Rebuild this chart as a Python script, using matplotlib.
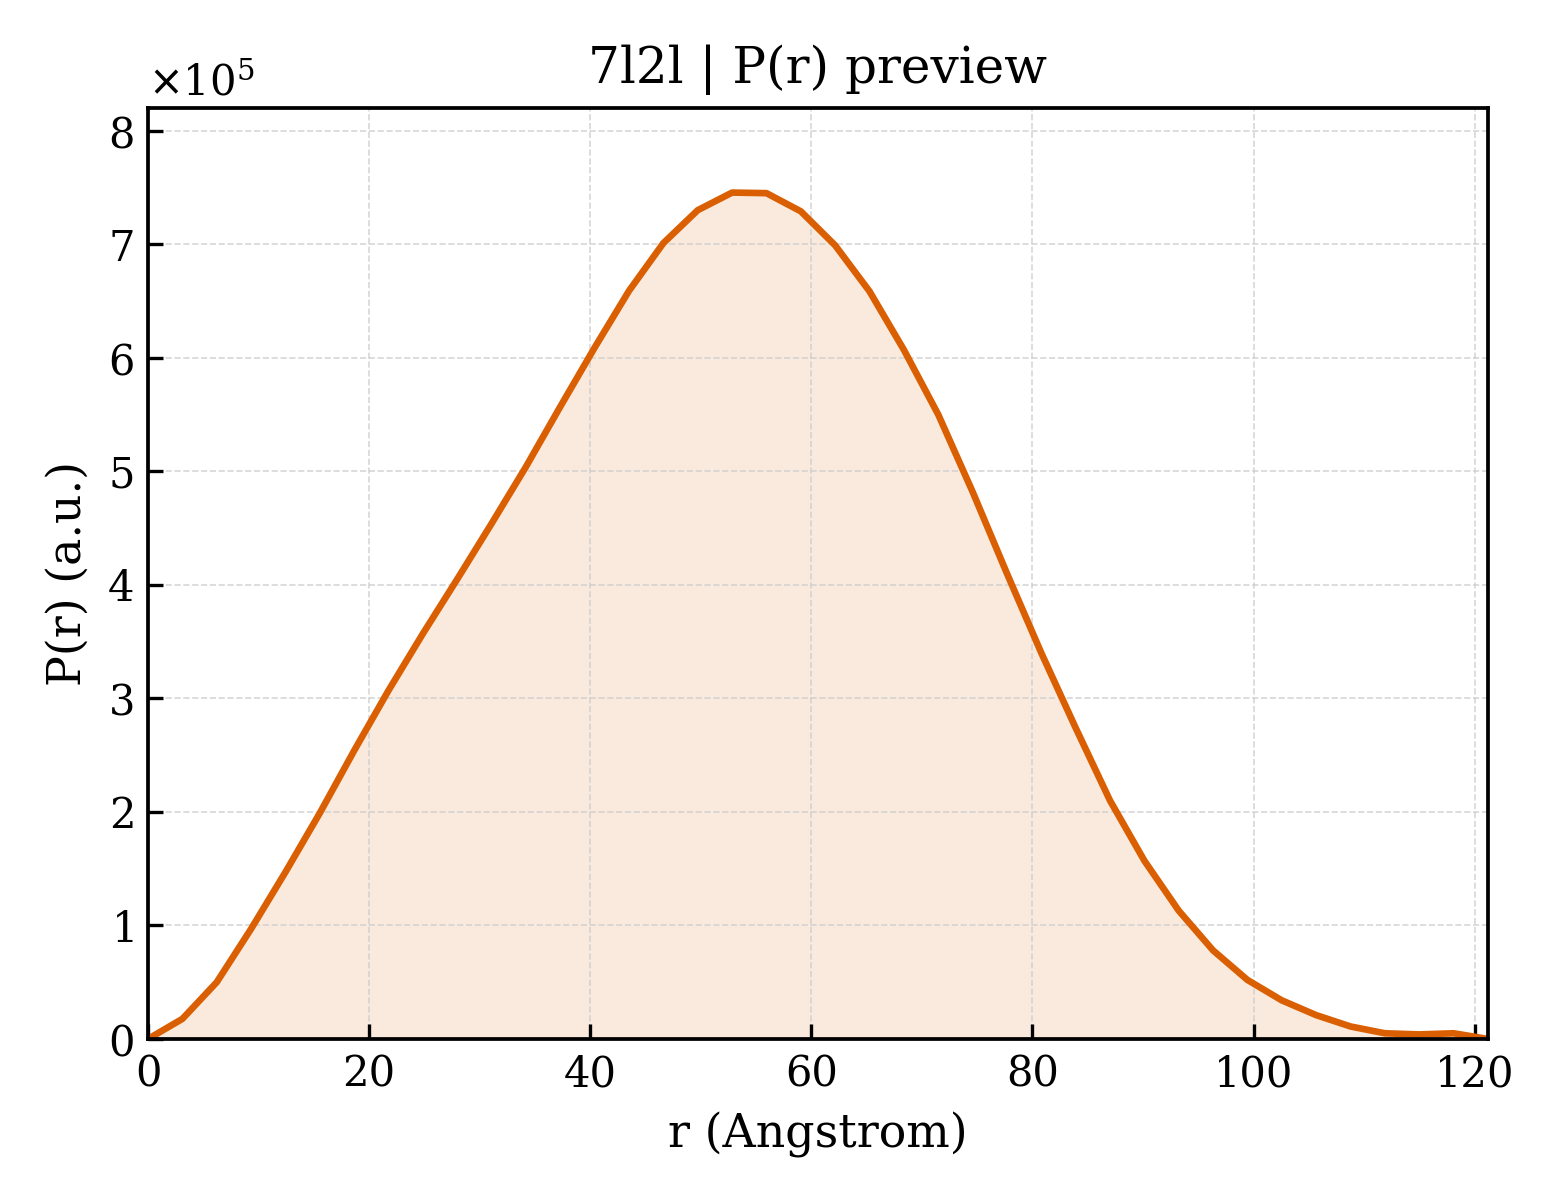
import numpy as np
import matplotlib
matplotlib.use("Agg")
import matplotlib.pyplot as plt

plt.rcParams['font.family'] = ['DejaVu Serif']

r_max = 121.2
n_points = 40
pr_values_e5 = [0.0, 0.177, 0.50, 0.97, 1.47, 1.99, 2.54, 3.07, 3.57, 4.05,
                4.54, 5.04, 5.57, 6.09, 6.59, 7.01, 7.30, 7.455, 7.45, 7.29,
                6.99, 6.585, 6.07, 5.50, 4.82, 4.10, 3.40, 2.74, 2.10, 1.57,
                1.13, 0.78, 0.52, 0.34, 0.21, 0.11, 0.05, 0.04, 0.05, 0.0]

r = np.linspace(0, r_max, n_points)
pr = np.array(pr_values_e5) * 1e5

fig = plt.figure(figsize=(5.2, 4.0), dpi=300)
ax = fig.add_axes([0.0949, 0.1342, 0.9538 - 0.0949, 0.91 - 0.1342])

color = '#D95F02'
ax.fill_between(r, pr, 0, color=color, alpha=0.13, linewidth=0)
ax.plot(r, pr, color=color, linewidth=1.6)

ax.set_xlim(0, r_max)
ax.set_ylim(0, 8.2e5)
ax.set_xticks([0, 20, 40, 60, 80, 100, 120])
ax.set_yticks(np.arange(0, 9) * 1e5)
ax.ticklabel_format(axis='y', style='sci', scilimits=(0, 0), useMathText=True)
ax.tick_params(direction='in', labelsize=10, width=0.8)
ax.grid(True, linestyle='--', linewidth=0.4, color='#cccccc', alpha=0.8)
for s in ax.spines.values():
    s.set_linewidth(0.9)

ax.set_xlabel('r (Angstrom)', fontsize=11)
ax.set_ylabel('P(r) (a.u.)', fontsize=11)
ax.set_title('7l2l | P(r) preview', fontsize=12)
ax.yaxis.get_offset_text().set_fontsize(10)

fig.savefig('out.png', dpi=300)
